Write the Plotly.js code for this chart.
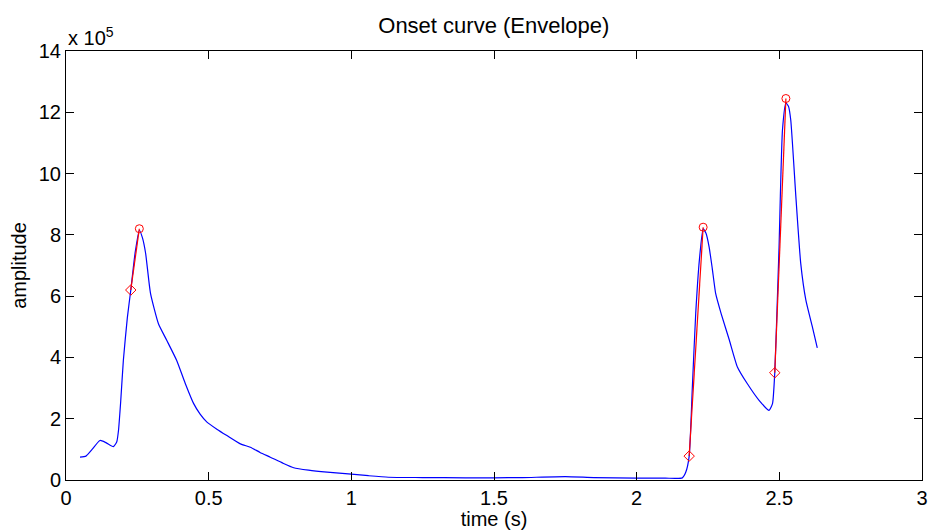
<!DOCTYPE html>
<html>
<head>
<meta charset="utf-8">
<script src="https://cdn.plot.ly/plotly-3.0.1.min.js"></script>
<style>html,body{margin:0;padding:0;background:#fff;}#chart{width:930px;height:530px;}</style>
</head>
<body>
<div id="chart"></div>
<script>
// Envelope curve (time in s, amplitude in units of 1e5)
const envTime = [0.049,0.07,0.09,0.119,0.14,0.166,0.178,0.184,0.192,0.201,0.215,0.227,0.242,0.257,0.268,0.279,0.296,0.324,0.353,0.388,0.418,0.447,0.47,0.494,0.53,0.564,0.611,0.646,0.68,0.716,0.76,0.798,0.85,0.915,1.0,1.06,1.13,1.25,1.4,1.5,1.6,1.75,1.85,2.0,2.1,2.16,2.172,2.184,2.195,2.207,2.22,2.233,2.243,2.254,2.265,2.277,2.296,2.325,2.353,2.388,2.429,2.464,2.476,2.484,2.492,2.499,2.511,2.523,2.532,2.540,2.558,2.575,2.593,2.616,2.633];
const envAmp  = [0.745,0.78,0.98,1.29,1.22,1.09,1.25,1.62,2.6,3.9,5.3,6.19,7.4,8.15,7.9,7.4,6.1,5.1,4.56,3.9,3.15,2.5,2.15,1.89,1.65,1.45,1.18,1.07,0.9,0.745,0.55,0.40,0.32,0.255,0.19,0.14,0.09,0.08,0.07,0.07,0.08,0.11,0.08,0.06,0.06,0.07,0.25,0.77,3.0,5.44,7.2,8.2,8.05,7.6,6.9,6.08,5.43,4.56,3.69,3.14,2.6,2.27,2.49,3.5,5.6,7.6,11.42,12.3,12.2,11.75,9.24,7.07,5.87,4.99,4.31];

// Onset markers: start (diamonds) and peak (circles)
const onsetTime = [0.227,2.184,2.484];
const onsetAmp  = [6.2,0.78,3.5];
const peakTime  = [0.257,2.233,2.523];
const peakAmp   = [8.2,8.25,12.45];

const scale = 1e5;
const lineX = [], lineY = [];
for (let i = 0; i < onsetTime.length; i++) {
  lineX.push(onsetTime[i], peakTime[i], null);
  lineY.push(onsetAmp[i]*scale, peakAmp[i]*scale, null);
}

const traces = [
  {x: envTime, y: envAmp.map(v=>v*scale), mode:'lines', line:{color:'#0000ff', width:1.2, shape:'spline', smoothing:0.5}, hoverinfo:'skip'},
  {x: lineX, y: lineY, mode:'lines', line:{color:'#ff0000', width:1.2}, connectgaps:false},
  {x: onsetTime, y: onsetAmp.map(v=>v*scale), mode:'markers', marker:{symbol:'diamond-open', size:8, color:'#ff0000', line:{width:1}}},
  {x: peakTime, y: peakAmp.map(v=>v*scale), mode:'markers', marker:{symbol:'circle-open', size:8, color:'#ff0000', line:{width:1}}}
];

const tickVals = [0,2,4,6,8,10,12,14];
const fontFam = 'Liberation Sans, Arial, Helvetica, sans-serif';
const layout = {
  width:930, height:530,
  margin:{l:66, r:8, t:51, b:50},
  paper_bgcolor:'#fff', plot_bgcolor:'#fff',
  showlegend:false,
  font:{family:fontFam, size:20, color:'#000'},
  title:{text:'Onset curve (Envelope)', font:{family:fontFam, size:22, color:'#000'}, x:0.531, xanchor:'center', y:0.953, yanchor:'middle'},
  xaxis:{range:[0,3], tickvals:[0,0.5,1,1.5,2,2.5,3], ticktext:['0','0.5','1','1.5','2','2.5','3'],
    ticks:'inside', ticklen:8, tickcolor:'#000', showline:true, linecolor:'#000', linewidth:1, mirror:'ticks',
    showgrid:false, zeroline:false, tickfont:{size:20},
    title:{text:'time (s)', font:{size:20}, standoff:0}},
  yaxis:{range:[0,14*scale], tickvals:tickVals.map(v=>v*scale), ticktext:tickVals.map(String),
    ticks:'inside', ticklen:8, tickcolor:'#000', showline:true, linecolor:'#000', linewidth:1, mirror:'ticks',
    showgrid:false, zeroline:false, tickfont:{size:20},
    title:{text:'amplitude', font:{size:20}, standoff:6}},
  annotations:[{xref:'paper', yref:'paper', x:0, y:1, xanchor:'left', yanchor:'bottom', yshift:0, showarrow:false,
    text:'x 10<sup>5</sup>', font:{family:fontFam, size:20, color:'#000'}}]
};
Plotly.newPlot('chart', traces, layout, {displayModeBar:false, staticPlot:true});
</script>
</body>
</html>
